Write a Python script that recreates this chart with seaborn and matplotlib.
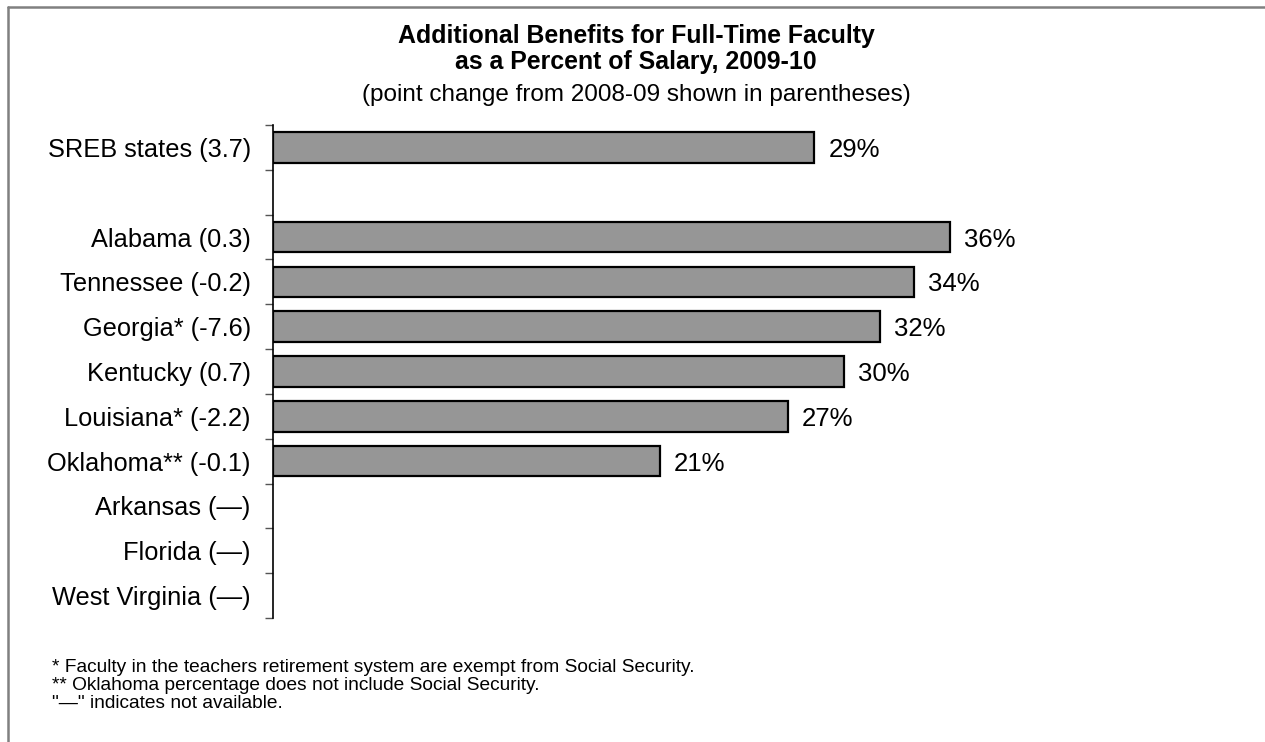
import numpy as np
import pandas as pd
import seaborn as sns
import matplotlib.pyplot as plt
from matplotlib.lines import Line2D
from matplotlib.ticker import FixedLocator

sns.set_style('white')
plt.rcParams['font.family'] = ['Liberation Sans', 'DejaVu Sans']
plt.rcParams['text.color'] = 'black'
plt.rcParams['ytick.labelcolor'] = 'black'

# data (blank slot separates SREB from the states)
labels = ['SREB states (3.7)', ' ', 'Alabama (0.3)', 'Tennessee (-0.2)',
          'Georgia* (-7.6)', 'Kentucky (0.7)', 'Louisiana* (-2.2)',
          'Oklahoma** (-0.1)', 'Arkansas (\u2014)', 'Florida (\u2014)',
          'West Virginia (\u2014)']
values = [28.8, np.nan, 36.0, 34.1, 32.3, 30.4, 27.4, 20.6, np.nan, np.nan, np.nan]
value_text = ['29%', '', '36%', '34%', '32%', '30%', '27%', '21%', '', '', '']

footnotes = ['* Faculty in the teachers retirement system are exempt from Social Security.',
             '** Oklahoma percentage does not include Social Security.',
             '"\u2014" indicates not available.']

df = pd.DataFrame({'label': labels, 'pct': values})

fig = plt.figure(figsize=(12.65, 7.42), dpi=100)
ax = fig.add_axes([0.2158, 0.1671, 0.743, 0.6644])

sns.barplot(data=df, x='pct', y='label', order=labels, color='#969696',
            edgecolor='black', linewidth=1.6, width=0.68, saturation=1,
            errorbar=None, ax=ax)

ax.set_xlim(0, 50)
ax.set_ylim(len(labels) - 0.5, -0.5)
ax.set_xlabel('')
ax.set_ylabel('')
ax.set_xticks([])

for s in ['top', 'right', 'bottom']:
    ax.spines[s].set_visible(False)
ax.spines['left'].set_color('black')
ax.spines['left'].set_linewidth(1.2)

# labels without tick marks, tick marks between categories
ax.tick_params(axis='y', which='major', length=0, pad=16, labelsize=18.3,
               labelcolor='black')
ax.yaxis.set_minor_locator(FixedLocator(np.arange(-0.5, len(labels), 1)))
ax.tick_params(axis='y', which='minor', length=5.5, width=1, color='#555555', left=True)

for i, (v, t) in enumerate(zip(values, value_text)):
    if t:
        ax.annotate(t, xy=(v, i), xytext=(10, 0), textcoords='offset points',
                    va='center_baseline', ha='left', fontsize=18.5)

fig.text(0.503, 0.9515, 'Additional Benefits for Full-Time Faculty', ha='center',
         va='center', fontsize=17.9, fontweight='bold')
fig.text(0.503, 0.9164, 'as a Percent of Salary, 2009-10', ha='center',
         va='center', fontsize=17.9, fontweight='bold')
fig.text(0.503, 0.872, '(point change from 2008-09 shown in parentheses)',
         ha='center', va='center', fontsize=17.5)

for k, line in enumerate(footnotes):
    fig.text(0.041, 1 - (668 + 17.5 * k) / 742, line, ha='left', va='center',
             fontsize=13.8)

# outer frame (only top and left edges are inside the picture)
x0 = 8 / 1265
y0 = 1 - 7 / 742
fig.add_artist(Line2D([x0, 1], [y0, y0], transform=fig.transFigure,
                      color='#808080', linewidth=1.8))
fig.add_artist(Line2D([x0, x0], [0, y0], transform=fig.transFigure,
                      color='#808080', linewidth=1.8))

fig.savefig('out.png', dpi=100)
